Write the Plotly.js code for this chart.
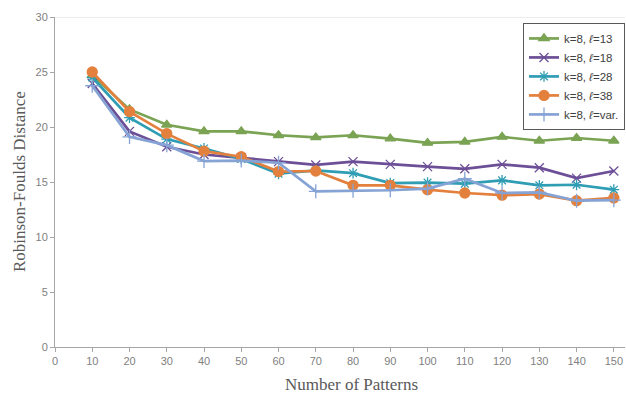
<!DOCTYPE html>
<html><head><meta charset="utf-8">
<script src="https://cdn.plot.ly/plotly-3.0.1.min.js"></script>
<style>html,body{margin:0;padding:0;background:#fff}#chart{width:626px;height:394px}</style>
</head><body><div id="chart"></div>
<script>
const patterns = [10,20,30,40,50,60,70,80,90,100,110,120,130,140,150];
const l13 = [24.7,21.6,20.2,19.6,19.6,19.25,19.05,19.25,18.95,18.55,18.65,19.1,18.75,19.0,18.75];
const l18 = [23.95,19.6,18.2,17.5,17.2,16.85,16.55,16.85,16.6,16.4,16.2,16.6,16.3,15.35,16.0];
const l28 = [24.5,20.85,18.9,18.05,17.1,15.75,16.05,15.8,14.9,14.95,14.85,15.15,14.7,14.75,14.3];
const l38 = [25.0,21.4,19.4,17.8,17.3,15.95,16.0,14.7,14.7,14.3,14.0,13.8,13.9,13.3,13.55];
const lvar = [23.75,19.1,18.35,16.9,16.95,16.75,14.15,14.2,14.25,14.4,15.3,14.0,14.05,13.3,13.35];
const names = ['k=8, <i>ℓ</i>=13','k=8, <i>ℓ</i>=18','k=8, <i>ℓ</i>=28','k=8, <i>ℓ</i>=38','k=8, <i>ℓ</i>=var.'];
const xTitle = 'Number of Patterns';
const yTitle = 'Robinson-Foulds Distance';
const series = [l13,l18,l28,l38,lvar];
const colors = ['#7aa353','#6c4f97','#2f9db3','#e3803d','#86a3d5'];
const symbols = ['triangle-up','x-thin-open','asterisk-open','circle','cross-thin-open'];
const sizes = [9,9,9,10,10];
const traces = series.map((s,i)=>({
  x: patterns, y: s, type:'scatter', mode:'lines+markers', name: names[i],
  line:{color:colors[i], width:2.7},
  marker:{symbol:symbols[i], size:sizes[i], color:colors[i], line:{color:colors[i], width:1.3}}
}));
const titleFont = {family:'Liberation Serif, Times New Roman, serif', size:17, color:'#595959'};
const layout = {
  width:626, height:394,
  margin:{l:55, r:1, t:17, b:47},
  paper_bgcolor:'#fff', plot_bgcolor:'#fff',
  font:{family:'Liberation Sans, Arial, sans-serif', size:11, color:'#7f7f7f'},
  xaxis:{range:[0,153], tickvals:[0,10,20,30,40,50,60,70,80,90,100,110,120,130,140,150],
    showgrid:false, zeroline:false, showline:true, linecolor:'#a6a6a6', linewidth:1,
    ticks:'outside', ticklen:4, tickcolor:'#a6a6a6',
    tickfont:{size:11, color:'#7f7f7f'}},
  yaxis:{range:[0,30], dtick:5, showgrid:false, zeroline:false, showline:true, linecolor:'#a6a6a6', linewidth:1,
    ticks:'outside', ticklen:4, tickcolor:'#a6a6a6',
    tickfont:{size:11, color:'#7f7f7f'}},
  shapes:[{type:'line', xref:'paper', yref:'y', x0:0, x1:1, y0:30, y1:30, line:{color:'#d9d9d9', width:1}}],
  annotations:[
    {text:xTitle, xref:'paper', yref:'paper', x:0.521, y:-0.115, xanchor:'center', yanchor:'middle', showarrow:false, font:titleFont},
    {text:yTitle, xref:'paper', yref:'paper', x:-0.063, y:0.5, xanchor:'center', yanchor:'middle', textangle:-90, showarrow:false, font:titleFont}
  ],
  legend:{x:1, xanchor:'right', y:0.982, yanchor:'top', bgcolor:'#fff', bordercolor:'#595959', borderwidth:1,
    font:{size:11.5, color:'#404040'}, itemwidth:30, tracegroupgap:0},
  showlegend:true
};
Plotly.newPlot('chart', traces, layout, {staticPlot:true});
</script></body></html>
